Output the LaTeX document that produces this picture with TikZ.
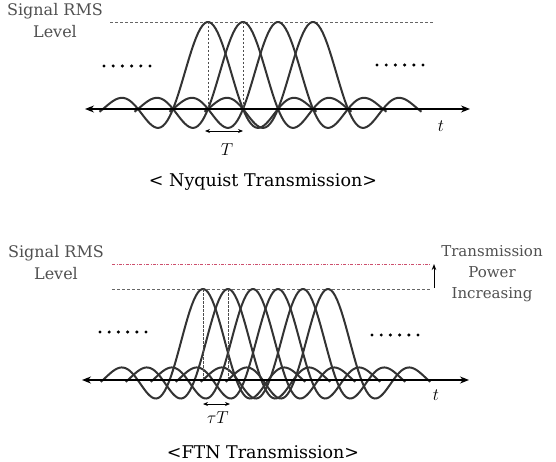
\documentclass[tikz,border=0pt]{standalone}
\usepackage{fontspec}
\setmainfont{DejaVu Serif}
\usetikzlibrary{positioning, arrows.meta}
\definecolor{lblgray}{RGB}{80,80,80}
\definecolor{rmsred}{RGB}{205,80,110}

\begin{document}
\begin{tikzpicture}[
		x=1pt, y={(0pt,-1pt)},
		>={Stealth[length=9pt, width=7pt]},
		pulse/.style={line width=2pt, black!80},
		axis/.style={<->, line width=1.4pt},
		level/.style={gray!80!black, line width=0.6pt, dash pattern=on 3pt off 2pt},
		newlevel/.style={rmsred, line width=0.7pt, dash pattern=on 3pt off 1.5pt on 0.8pt off 1.5pt},
		guide/.style={black!70, line width=0.6pt, dash pattern=on 2.5pt off 1.5pt},
		span/.style={{Stealth[length=5pt, width=4pt]}-{Stealth[length=5pt, width=4pt]}, line width=0.9pt},
		lbl/.style={align=center, text=lblgray, font=\fontsize{16}{22}\selectfont},
		caption/.style={text=black, font=\fontsize{17.5}{20}\selectfont},
		sym/.style={font=\fontsize{17}{20}\selectfont}
	]

	\useasboundingbox (0,0) rectangle (556,462);

	% Nyquist transmission
	\node[lbl] (n_rms) at (55,21) {Signal RMS\\Level};
	\coordinate (n_lvl_l) at (110,22);
	\coordinate (n_lvl_r) at (433,22);
	\draw[level] (n_lvl_l) -- (n_lvl_r);
	\foreach \c in {208,243,278,313}
		\draw[pulse] plot[domain=-3.1:3.1, samples=100] ({\c+35*\x}, {109-87*sin(\x*pi r)/(\x*pi)});
	\draw[guide] (208,22) -- (208,109);
	\draw[guide] (243,22) -- (243,109);
	\coordinate (n_ax_l) at (85,109);
	\coordinate (n_ax_r) at (470,109);
	\draw[axis] (n_ax_l) -- (n_ax_r);
	\foreach \i in {0,...,5} {
		\fill (104+\i*9.2,66) circle (1.7pt);
		\fill (377+\i*9.2,65) circle (1.7pt);
	}
	\coordinate (n_sp_l) at (205,131);
	\coordinate (n_sp_r) at (243,131);
	\draw[span] (n_sp_l) -- (n_sp_r);
	\node[sym] (n_T) at (227,150) {$T$};
	\node[sym] (n_t) at (441,126) {$t$};
	\node[caption] (cap_n) at (263,182) {< Nyquist Transmission>};

	% FTN transmission
	\node[lbl] (f_rms) at (56,263) {Signal RMS\\Level};
	\coordinate (f_new_l) at (112,264);
	\coordinate (f_new_r) at (431,264);
	\draw[newlevel] (f_new_l) -- (f_new_r);
	\coordinate (f_lvl_l) at (112,289);
	\coordinate (f_lvl_r) at (431,289);
	\draw[level] (f_lvl_l) -- (f_lvl_r);
	\coordinate (f_up_b) at (434,288);
	\coordinate (f_up_t) at (434,264);
	\draw[->, line width=1pt, >={Stealth[length=6pt, width=4.5pt]}] (f_up_b) -- (f_up_t);
	\node[lbl, font=\fontsize{15}{21}\selectfont] (f_pow) at (492,274) {Transmission\\Power\\Increasing};
	\foreach \c in {203,228,253,278,303,328}
		\draw[pulse] plot[domain=-3.1:3.1, samples=100] ({\c+33*\x}, {379-90*sin(\x*pi r)/(\x*pi)});
	\draw[guide] (203,289) -- (203,379);
	\draw[guide] (228,289) -- (228,379);
	\coordinate (f_ax_l) at (82,380);
	\coordinate (f_ax_r) at (469,380);
	\draw[axis] (f_ax_l) -- (f_ax_r);
	\foreach \i in {0,...,5} {
		\fill (100+\i*9.2,332) circle (1.7pt);
		\fill (372+\i*9.2,335) circle (1.7pt);
	}
	\coordinate (f_sp_l) at (203,404);
	\coordinate (f_sp_r) at (230,404);
	\draw[span] (f_sp_l) -- (f_sp_r);
	\node[sym] (f_T) at (218,418) {$\tau T$};
	\node[sym] (f_t) at (436,395) {$t$};
	\node[caption] (cap_f) at (263,452) {<FTN Transmission>};

\end{tikzpicture}
\end{document}
